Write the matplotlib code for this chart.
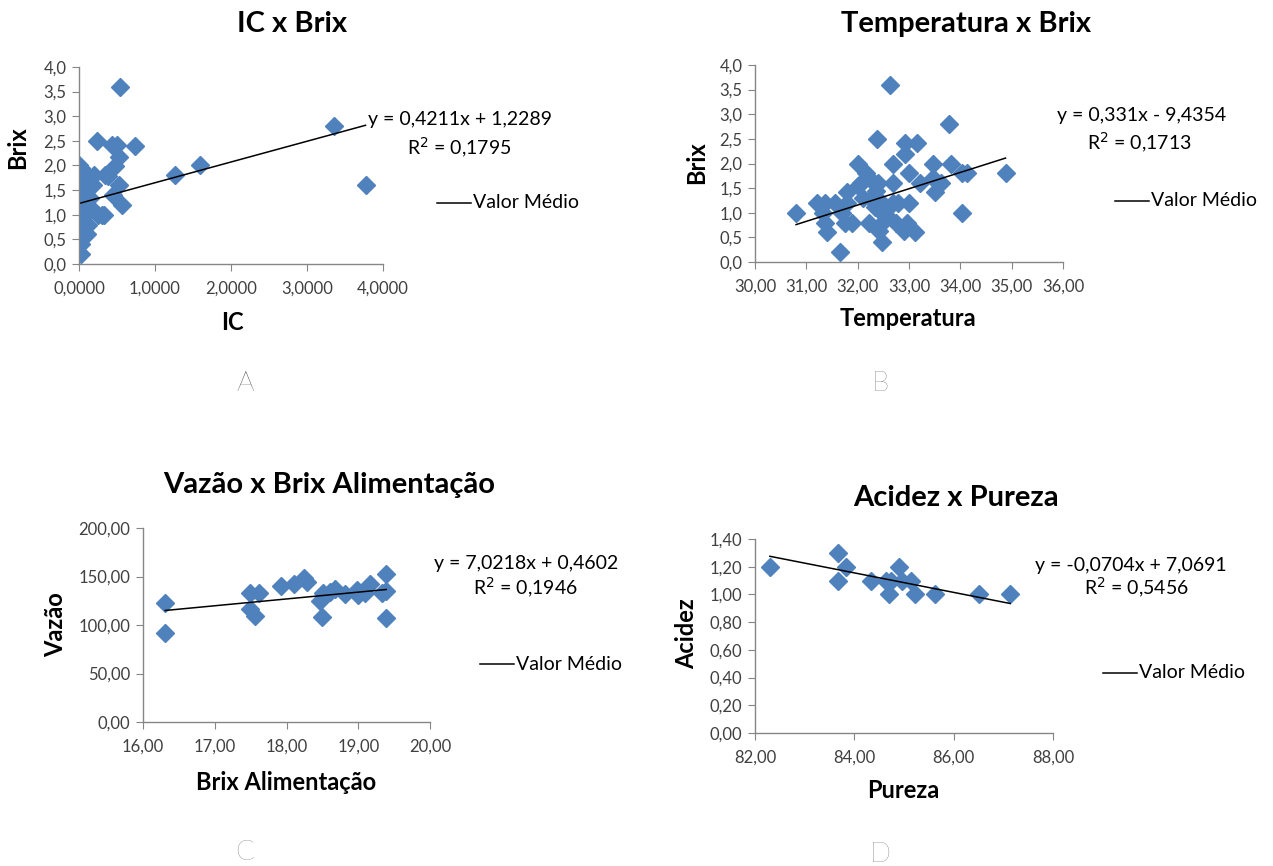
import matplotlib.pyplot as plt
from matplotlib.ticker import FuncFormatter
import numpy as np

plt.rcParams['font.family'] = ['Lato', 'DejaVu Sans']

# A - IC x Brix
ic_x = [0.54, 0.24, 0.43, 0.50, 0.74, 0.52, 0.47, 1.26, 1.59, 3.35, 3.77, 0.34, 0.38, 0.20,
        0.53, 0.45, 0.56, 0.25, 0.30, 0.33, 0.12,
        0.00, 0.03, 0.00, 0.05, 0.10, 0.15, 0.00, 0.06, 0.12, 0.18, 0.00, 0.04, 0.10, 0.00,
        0.08, 0.14, 0.00, 0.05, 0.10, 0.15, 0.00, 0.04, 0.08, 0.00, 0.06, 0.00, 0.04, 0.10,
        0.02, 0.03, 0.02]
ic_y = [3.6, 2.5, 2.42, 2.42, 2.4, 2.18, 1.98, 1.8, 2.0, 2.8, 1.6, 1.8, 1.78, 1.8,
        1.6, 1.4, 1.2, 1.0, 1.0, 1.0, 0.8,
        2.0, 1.95, 1.8, 1.8, 1.8, 1.75, 1.6, 1.65, 1.6, 1.6, 1.5, 1.45, 1.5, 1.4,
        1.4, 1.35, 1.2, 1.25, 1.2, 1.15, 1.0, 1.05, 1.0, 0.8, 0.85, 0.6, 0.65, 0.6,
        0.5, 0.4, 0.2]

# B - Temperatura x Brix
temp_x = [30.80, 31.66, 32.63, 32.37, 33.78, 32.92, 33.15, 32.92, 32.01, 32.68, 33.46, 33.81,
          32.16, 33.00, 34.03, 34.13, 34.88, 32.06, 32.40, 32.69, 33.21, 33.47, 33.63, 33.50,
          31.79, 31.20, 31.37, 31.56, 31.79, 32.10, 32.26, 32.48, 32.68, 32.78, 33.00, 32.33,
          31.33, 31.69, 32.48, 34.03, 31.37, 31.76, 31.89, 32.23, 32.48, 32.74, 32.96, 32.41,
          32.90, 33.12, 31.40, 32.48, 32.55, 32.30, 32.36, 32.00]
temp_y = [1.0, 0.2, 3.6, 2.5, 2.8, 2.42, 2.42, 2.2, 2.0, 2.0, 2.0, 2.0,
          1.8, 1.8, 1.8, 1.8, 1.8, 1.6, 1.6, 1.6, 1.6, 1.7, 1.6, 1.43,
          1.43, 1.2, 1.2, 1.2, 1.2, 1.3, 1.28, 1.2, 1.2, 1.2, 1.2, 1.12,
          1.0, 1.0, 1.0, 1.0, 0.8, 0.8, 0.8, 0.8, 0.8, 0.8, 0.8, 0.62,
          0.62, 0.6, 0.6, 0.4, 0.95, 1.62, 1.45, 1.55]

# C - Vazao x Brix Alimentacao
brix_al = [16.31, 16.31, 17.49, 17.61, 17.49, 17.56, 17.93, 18.10, 18.24, 18.29, 18.47, 18.50,
           18.51, 18.60, 18.68, 18.82, 18.98, 19.00, 19.10, 19.17, 19.33, 19.38, 19.39, 19.38]
vazao = [122.4, 91.4, 132.7, 132.7, 116.5, 109.6, 140.2, 142.3, 148.8, 144.6, 125.0, 108.6,
         132.7, 134.4, 136.8, 131.6, 136.0, 131.0, 132.7, 142.3, 132.7, 135.0, 152.6, 106.9]

# D - Acidez x Pureza
pureza = [82.30, 83.67, 83.67, 83.84, 84.33, 84.63, 84.74, 84.69, 84.89, 84.96, 85.15, 85.23,
          85.62, 86.51, 87.14]
acidez = [1.2, 1.3, 1.1, 1.2, 1.1, 1.1, 1.1, 1.0, 1.2, 1.1, 1.1, 1.0, 1.0, 1.0, 1.0]

# trendline coefficients as shown in the chart
fits = [(0.4211, 1.2289), (0.331, -9.4354), (7.0218, 0.4602), (-0.0704, 7.0691)]
eq_txt = ['y = 0,4211x + 1,2289', 'y = 0,331x - 9,4354', 'y = 7,0218x + 0,4602', 'y = -0,0704x + 7,0691']
r2_txt = ['R$^2$ = 0,1795', 'R$^2$ = 0,1713', 'R$^2$ = 0,1946', 'R$^2$ = 0,5456']

titles = ['IC x Brix', 'Temperatura x Brix', 'Vazão x Brix Alimentação', 'Acidez x Pureza']
xlabels = ['IC', 'Temperatura', 'Brix Alimentação', 'Pureza']
ylabels = ['Brix', 'Brix', 'Vazão', 'Acidez']
letters = ['A', 'B', 'C', 'D']

xlims = [(0, 4), (30, 36), (16, 20), (82, 88)]
ylims = [(0, 4), (0, 4), (0, 200), (0, 1.4)]
xsteps = [1, 1, 1, 2]
ysteps = [0.5, 0.5, 50, 0.2]
xfmt = ['{:.4f}', '{:.2f}', '{:.2f}', '{:.2f}']
yfmt = ['{:.1f}', '{:.1f}', '{:.2f}', '{:.2f}']

data = [(ic_x, ic_y), (temp_x, temp_y), (brix_al, vazao), (pureza, acidez)]

W, H = 1273, 866
# axes boxes in pixels: left, top, right, bottom
boxes = [(79, 67, 383, 264), (755, 65, 1063, 262), (143, 528, 430, 722), (755, 539, 1053, 733)]
title_pos = [(292, 24), (966, 24), (329, 485), (956, 498)]
eq_pos = [(368, 120), (1057, 116), (434, 563), (1035, 565)]
r2_pos = [(459, 148), (1139, 143), (526, 588), (1137, 588)]
leg_pos = [(437, 203), (1115, 201), (480, 664), (1103, 673)]
xlab_pos = [(232, 323), (908, 318), (286, 782), (903, 790)]
ylab_pos = [(18, 148), (697, 163), (56, 625), (687, 634)]
letter_pos = [(245, 383), (880, 383), (245, 852), (880, 854)]

fig = plt.figure(figsize=(W / 100, H / 100), dpi=100)

def fx(px):
    return px / W

def fy(py):
    return 1 - py / H

for i in range(4):
    l, t, r, b = boxes[i]
    ax = fig.add_axes([fx(l), fy(b), fx(r) - fx(l), fy(t) - fy(b)])
    x, y = data[i]
    ax.plot(x, y, linestyle='none', marker='D', markersize=9.5, color='#4F81BD')
    m, c = fits[i]
    xs = np.array([min(x), max(x)])
    ax.plot(xs, m * xs + c, color='black', lw=1.1)
    ax.set_xlim(*xlims[i])
    ax.set_ylim(*ylims[i])
    ax.set_xticks(np.arange(xlims[i][0], xlims[i][1] + 1e-9, xsteps[i]))
    ax.set_yticks(np.arange(ylims[i][0], ylims[i][1] + 1e-9, ysteps[i]))
    f1, f2 = xfmt[i], yfmt[i]
    ax.xaxis.set_major_formatter(FuncFormatter(lambda v, p, f=f1: f.format(v).replace('.', ',')))
    ax.yaxis.set_major_formatter(FuncFormatter(lambda v, p, f=f2: f.format(v).replace('.', ',')))
    for s in ['top', 'right']:
        ax.spines[s].set_visible(False)
    for s in ['left', 'bottom']:
        ax.spines[s].set_color('#868686')
        ax.spines[s].set_linewidth(1)
    ax.tick_params(direction='out', length=5, color='#868686', labelsize=12, labelcolor='#404040', pad=4)
    ax.xaxis.set_tick_params(pad=7)

    fig.text(fx(title_pos[i][0]), fy(title_pos[i][1]), titles[i], ha='center', va='center',
             fontsize=21, fontweight='bold')
    fig.text(fx(xlab_pos[i][0]), fy(xlab_pos[i][1]), xlabels[i], ha='center', va='center',
             fontsize=17, fontweight='bold')
    fig.text(fx(ylab_pos[i][0]), fy(ylab_pos[i][1]), ylabels[i], ha='center', va='center',
             fontsize=17, fontweight='bold', rotation=90)
    fig.text(fx(eq_pos[i][0]), fy(eq_pos[i][1]), eq_txt[i], ha='left', va='center', fontsize=14)
    fig.text(fx(r2_pos[i][0]), fy(r2_pos[i][1]), r2_txt[i], ha='center', va='center', fontsize=14)
    lx, ly = leg_pos[i]
    fig.add_artist(plt.Line2D([fx(lx), fx(lx + 34)], [fy(ly), fy(ly)], color='black', lw=1.1))
    fig.text(fx(lx + 36), fy(ly), 'Valor Médio', ha='left', va='center', fontsize=14)
    fig.text(fx(letter_pos[i][0]), fy(letter_pos[i][1]), letters[i], ha='center', va='center',
             fontsize=20, fontweight='light', color='#555555')

fig.savefig('out.png', dpi=100)
